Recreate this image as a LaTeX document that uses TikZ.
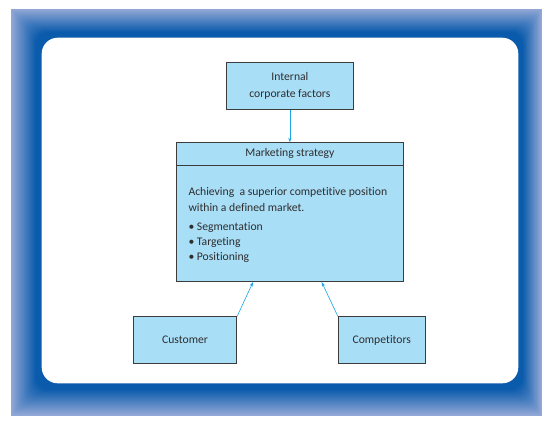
\documentclass[tikz,border=0pt]{standalone}
\usepackage{fontspec}
\setmainfont{Carlito}[Ligatures=NoCommon]
\usetikzlibrary{positioning, calc, arrows.meta}
\definecolor{frameLight}{HTML}{93A8D6}
\definecolor{frameDark}{HTML}{0A5BAC}
\definecolor{boxFill}{HTML}{A9DEF7}
\definecolor{boxLine}{HTML}{3C3C3C}
\definecolor{arrowCyan}{HTML}{1AA7E4}
\definecolor{textGray}{HTML}{2E2E2E}
\newcommand{\boxfont}{\fontsize{11.7}{16.4}\selectfont}

\begin{document}
\begin{tikzpicture}[
x=1bp, y=-1bp,
box/.style={rectangle, draw=boxLine, fill=boxFill, line width=0.8bp, text=textGray, font=\boxfont, align=center},
link/.style={draw=arrowCyan, line width=0.6bp, -{Stealth[length=4.5bp, width=3.2bp]}},
node distance=32.4bp and 0bp
]
\useasboundingbox (0,0) rectangle (548,422);

%Frame
\coordinate (frameNW) at (11,9);
\coordinate (frameSE) at (541.7,416);
\coordinate (panelNW) at (41.7,37.7);
\coordinate (panelSE) at (518.3,383.3);
\foreach \idx [evaluate=\idx as \tval using \idx/30,
               evaluate=\idx as \pval using {min(100,100*\idx/24)},
               evaluate=\idx as \rval using 16*\idx/30] in {0,...,30}
  \fill[frameDark!\pval!frameLight, rounded corners=\rval bp]
    ($(frameNW)!\tval!(panelNW)$) rectangle ($(frameSE)!\tval!(panelSE)$);
\fill[white, rounded corners=16bp] (panelNW) rectangle (panelSE);

%Nodes
\node[box, minimum width=226.3bp, minimum height=139bp] (strategy) at (289.9,212.2) {};
\node[anchor=north, text=textGray, font=\boxfont, minimum height=22.3bp, inner sep=0pt] (head) at (strategy.north) {Marketing strategy};
\draw[boxLine, line width=0.8bp] (strategy.west |- head.south) -- (strategy.east |- head.south);
\node[anchor=north west, text=textGray, font=\fontsize{11.7}{15}\selectfont, align=left, inner sep=0pt] (body) at (188.3,187)
  {Achieving~ a superior competitive position\\[1bp]
   within a defined market.\\[4bp]
   \textbullet~Segmentation\\
   \textbullet~Targeting\\
   \textbullet~Positioning};
\node[box, minimum width=126.3bp, minimum height=47bp] (internal) [above=of strategy] {Internal\\corporate factors};
\node[box, minimum width=103.4bp, minimum height=46.7bp] (customer) [below=34.3bp of strategy.south, xshift=-104.9bp] {Customer};
\node[box, minimum width=87bp, minimum height=46.7bp] (competitors) [below=34.3bp of strategy.south, xshift=91.9bp] {Competitors};

%Connectors
\coordinate (customerIn) at ([xshift=-36.9bp]strategy.south);
\coordinate (competitorsIn) at ([xshift=31.8bp]strategy.south);
\draw[link] (internal) -- (strategy);
\draw[link] (customer.north east) -- (customerIn);
\draw[link] (competitors.north west) -- (competitorsIn);
\end{tikzpicture}
\end{document}
